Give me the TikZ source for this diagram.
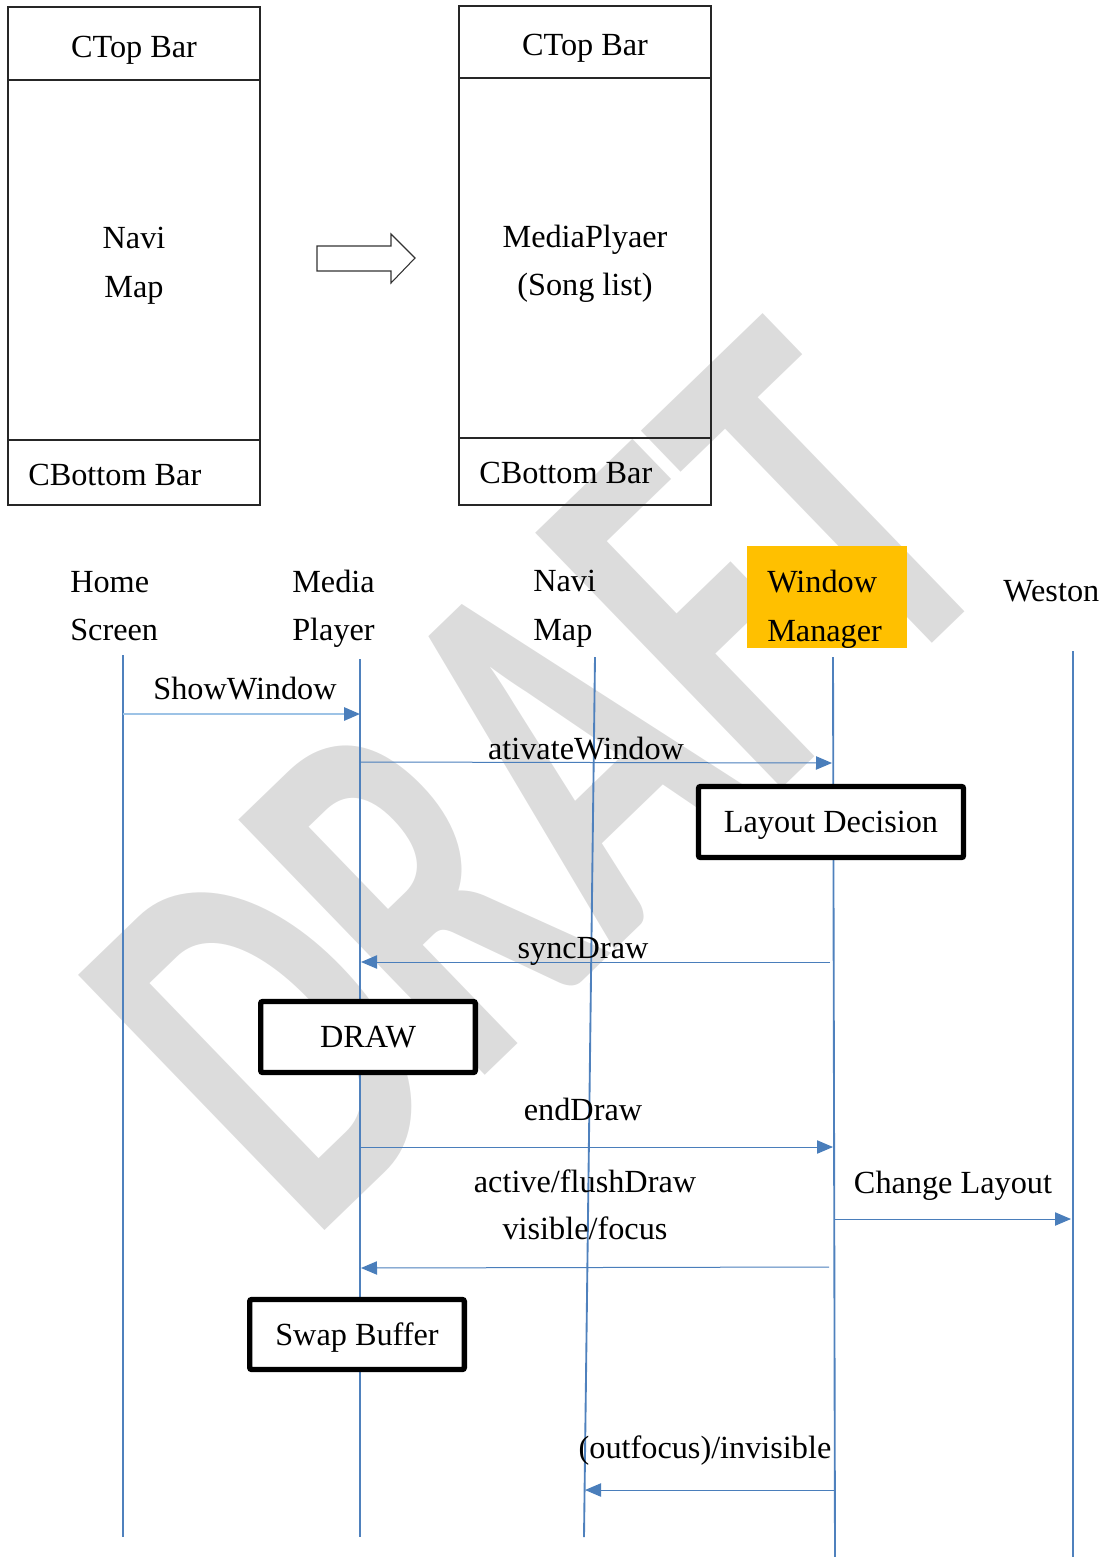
\documentclass[tikz,border=0pt]{standalone}
\usepackage{fontspec}
\setmainfont{Liberation Serif}
\newfontfamily\wmfont{Carlito}
\usetikzlibrary{arrows.meta}
\definecolor{lifeblue}{HTML}{4F81BD}
\definecolor{msgblue}{HTML}{4A7EBB}
\definecolor{lightmsg}{HTML}{9DC3E6}
\definecolor{wmgray}{HTML}{DCDCDC}
\definecolor{wmorange}{HTML}{FFC000}
\begin{document}
\begin{tikzpicture}[x=0.75pt,y=-0.75pt,
  font=\fontsize{24.2}{36}\selectfont,
  txt/.style={inner sep=0pt,anchor=base},
  txtw/.style={inner sep=0pt,anchor=base west},
  part/.style={draw=black!85,line width=0.8pt,minimum width=189pt,inner sep=0pt},
  lifeline/.style={draw=lifeblue,line width=1.4pt},
  msg/.style={draw=msgblue,line width=0.75pt,-{Triangle[length=12pt,width=10pt,color=msgblue]}},
  lightmsg/.style={msg,draw=lightmsg,line width=1.4pt},
  heavybox/.style={draw=black,line width=4pt,rounded corners=1.5pt,fill=white,inner sep=0pt,text depth=0pt}]
\useasboundingbox (0,0) rectangle (1107,1557);

% watermark behind everything
\node[rotate=44,text=wmgray,inner sep=0pt] (wm) at (538,778)
  {\resizebox{732pt}{266pt}{\wmfont\bfseries DRAFT}};

% ---- screen before the switch ----
\node[part,minimum height=54.75pt] (lt) at (134,43.5) {};
\node[part,minimum height=270pt] (lm) at (134,260) {};
\node[part,minimum height=48.75pt] (lb) at (134,472.5) {};
\node[txt] at (134,57) {CTop Bar};
\node[txt] at (134,248) {Navi};
\node[txt] at (134,297) {Map};
\node[txtw] at (28,485) {CBottom Bar};

% ---- screen after the switch ----
\node[part,minimum height=54pt] (rt) at (585,42) {};
\node[part,minimum height=270pt] (rm) at (585,258) {};
\node[part,minimum height=50.25pt] (rb) at (585,471.5) {};
\node[txt] at (585,55) {CTop Bar};
\node[txt] at (585,247) {MediaPlyaer};
\node[txt] at (585,295) {(Song list)};
\node[txtw] at (479,483) {CBottom Bar};

% block arrow between the two screens
\draw[draw=black!80,line width=0.8pt] (317,246) -- (391,246) -- (391,234) -- (415,258)
  -- (391,283) -- (391,271) -- (317,271) -- cycle;

% ---- participants ----
\node[txtw] at (70,592) {Home};
\node[txtw] at (70,640) {Screen};
\node[txtw] at (292,592) {Media};
\node[txtw] at (292,640) {Player};
\node[txtw] at (533,591) {Navi};
\node[txtw] at (533,640) {Map};
\fill[wmorange] (747,546) rectangle (907,648);
\begin{scope}
  \clip (747,546) rectangle (907,648);
  \node[txtw] at (767,592) {Window};
  \node[txtw] at (767,641) {Manager};
\end{scope}
\node[txtw] at (1003,601) {Weston};

% lifelines
\coordinate (hsT) at (123,655);  \coordinate (hsB) at (123,1537);
\coordinate (mpT) at (360,659);  \coordinate (mpB) at (360,1537);
\coordinate (nmT) at (595,657);  \coordinate (nmB) at (584,1537);
\coordinate (wmT) at (833,657);  \coordinate (wmB) at (835,1557);
\coordinate (wsT) at (1073,651); \coordinate (wsB) at (1073,1557);
\draw[lifeline] (hsT) -- (hsB);
\draw[lifeline] (mpT) -- (mpB);
\draw[lifeline] (nmT) -- (nmB);
\draw[lifeline] (wmT) -- (wmB);
\draw[lifeline] (wsT) -- (wsB);

% message end points
\coordinate (m1a) at (123,714);  \coordinate (m1b) at (360,714);
\coordinate (m2a) at (360,762);  \coordinate (m2b) at (832,763);
\coordinate (m3a) at (830,962);  \coordinate (m3b) at (361,962);
\coordinate (m4a) at (360,1147); \coordinate (m4b) at (833,1147);
\coordinate (m5a) at (829,1267); \coordinate (m5b) at (361,1268);
\coordinate (m6a) at (835,1219); \coordinate (m6b) at (1071,1219);
\coordinate (m7a) at (834,1490); \coordinate (m7b) at (585,1490);

% messages
\draw[lightmsg] (m1a) -- (m1b);
\node[txt] at (245,699) {ShowWindow};
\draw[msg] (m2a) -- (m2b);
\node[txt] at (586,759) {ativateWindow};
\node[heavybox,minimum width=198.75pt,minimum height=53.25pt] (ld) at (831,822) {Layout Decision};
\draw[msg] (m3a) -- (m3b);
\node[txt] at (583,958) {syncDraw};
\node[heavybox,minimum width=161pt,minimum height=53.25pt] (dr) at (368,1037) {DRAW};
\node[txt] at (583,1120) {endDraw};
\draw[msg] (m4a) -- (m4b);
\node[txt] at (585,1192) {active/flushDraw};
\node[txt] at (585,1239) {visible/focus};
\draw[msg] (m5a) -- (m5b);
\node[txt] at (953,1193) {Change Layout};
\draw[msg] (m6a) -- (m6b);
\node[heavybox,minimum width=161pt,minimum height=52.5pt] (sb) at (357,1334.5) {Swap Buffer};
\node[txt] at (705,1458) {(outfocus)/invisible};
\draw[msg] (m7a) -- (m7b);
\end{tikzpicture}
\end{document}
